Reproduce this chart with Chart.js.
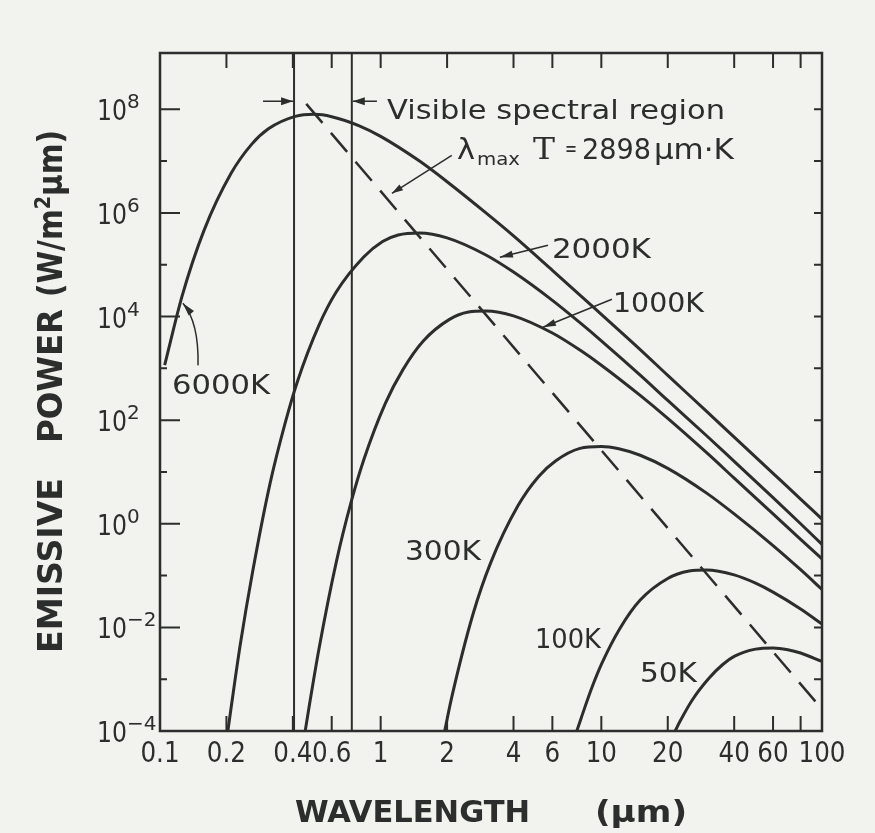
<!DOCTYPE html>
<html>
<head>
<meta charset="utf-8">
<script src="https://cdn.jsdelivr.net/npm/chart.js@4.4.0/dist/chart.umd.min.js"></script>
<style>
  html, body { margin: 0; padding: 0; background: #f2f2ee; }
  #wrap { width: 875px; height: 833px; }
</style>
</head>
<body>
<div id="wrap"><canvas id="chart"></canvas></div>
<script>
// blackbody curves (wavelength in um, power in W/m2um)
const lam6000 = [0.105, 0.126, 0.158, 0.21, 0.26, 0.31, 0.41, 0.5, 0.6, 0.8, 1, 1.5, 2, 3, 4, 6, 8, 10, 15, 20, 30, 40, 60, 80, 100];
const e6000 = [1.15e3, 2.5e4, 4.5e5, 5.8e6, 2.1e7, 4.2e7, 7.3e7, 8.0e7, 7.2e7, 4.8e7, 3.0e7, 1.0e7, 4.0e6, 1.0e6, 3.6e5, 7.8e4, 2.6e4, 1.1e4, 2.3e3, 730, 148, 47, 9.4, 3.0, 1.23];

const lam2000 = [0.203, 0.21, 0.231, 0.263, 0.315, 0.368, 0.42, 0.525, 0.63, 0.84, 1.02, 1.2, 1.5, 2, 3, 4, 6, 8, 10, 15, 20, 30, 40, 60, 80, 100];
const e2000 = [1e-4, 2.8e-4, 4.6e-3, 0.12, 5.9, 84, 565, 6.75e3, 3.0e4, 1.42e5, 2.8e5, 3.75e5, 4.1e5, 3.3e5, 1.54e5, 7.2e4, 2.05e4, 7.6e3, 3.4e3, 740, 240, 50, 16, 3.2, 1.0, 0.4];

const lam1000 = [0.455, 0.472, 0.525, 0.63, 0.735, 0.84, 1.05, 1.26, 1.56, 2.05, 2.5, 3, 4, 6, 8, 10, 15, 20, 30, 40, 60, 80, 100];
const e1000 = [1e-4, 2.64e-4, 3.8e-3, 0.186, 2.64, 17.6, 211, 934, 3.36e3, 8.8e3, 1.22e4, 1.28e4, 1.03e4, 4.8e3, 2.25e3, 1.15e3, 300, 108, 23.5, 7.6, 1.55, 0.5, 0.21];

const lam300 = [1.95, 2.1, 2.62, 3.15, 4.2, 5.2, 6.2, 8, 10, 12, 15, 20, 30, 40, 60, 80, 100];
const e300 = [1e-4, 4.5e-4, 0.0179, 0.176, 2.27, 8.2, 16.3, 28.5, 31, 28, 21, 11.7, 3.9, 1.55, 0.38, 0.13, 0.054];

const lam100 = [7.74, 8.1, 9.1, 10.1, 12.1, 15, 20, 25, 30, 40, 50, 60, 80, 100];
const e100 = [1e-4, 1.77e-4, 7.2e-4, 2.1e-3, 9.3e-3, 0.0336, 0.088, 0.122, 0.128, 0.103, 0.0714, 0.048, 0.0227, 0.0116];

const lam50 = [21.6, 22.7, 25.7, 30.8, 35.5, 40, 50, 60, 70, 80, 100];
const e50 = [1e-4, 1.52e-4, 3.84e-4, 1.05e-3, 1.92e-3, 2.75e-3, 3.8e-3, 4.0e-3, 3.7e-3, 3.2e-3, 2.2e-3];

// Wien line lambda_max * T = 2898 um K
const lamWien = [0.46, 95];
const eWien = [1.27e8, 3.4e-4];

// visible band edges
const visibleEdges = [0.405, 0.74];

// axes
const xMin = 0.1, xMax = 100;
const yMin = 1e-4, yMax = 1.22e9;
const xTickVals = [0.2, 0.4, 0.6, 1, 2, 4, 6, 10, 20, 40, 60, 80];
const xLabelVals = [0.1, 0.2, 0.4, 0.6, 1, 2, 4, 6, 10, 20, 40, 60, 100];
const yPowers = [-4, -3, -2, -1, 0, 1, 2, 3, 4, 5, 6, 7, 8];

const ink = '#2b2e2c';
const FONT = "'DejaVu Sans'";

const pts = (xs, ys) => xs.map((v, i) => ({ x: v, y: ys[i] }));
const curve = (xs, ys) => ({
  data: pts(xs, ys), showLine: true, borderColor: ink, borderWidth: 3,
  pointRadius: 0, cubicInterpolationMode: 'monotone', fill: false
});
const vline = v => ({
  data: [{ x: v, y: yMin }, { x: v, y: yMax }], showLine: true,
  borderColor: ink, borderWidth: 2, pointRadius: 0
});

// annotation anchors in data space (left edge, baseline)
const notes = [
  { text: '6000K', x: 0.1133, y: 315, w: 98 },
  { text: '2000K', x: 5.97, y: 1.33e5, w: 99 },
  { text: '1000K', x: 11.29, y: 1.2e4, w: 91 },
  { text: '300K', x: 1.289, y: 0.196, w: 76 },
  { text: '100K', x: 5.0, y: 3.94e-3, w: 66 },
  { text: '50K', x: 14.96, y: 8.67e-4, w: 57 }
];

function fitText(ctx, str, x, y, width, font) {
  ctx.font = font;
  const w = ctx.measureText(str).width;
  ctx.save();
  ctx.translate(x, y);
  ctx.scale(width / w, 1);
  ctx.textAlign = 'left';
  ctx.textBaseline = 'alphabetic';
  ctx.fillText(str, 0, 0);
  ctx.restore();
}

function head(ctx, x, y, ang, len, wid) {
  ctx.save();
  ctx.translate(x, y);
  ctx.rotate(ang);
  ctx.beginPath();
  ctx.moveTo(0, 0);
  ctx.lineTo(-len, wid / 2);
  ctx.lineTo(-len, -wid / 2);
  ctx.closePath();
  ctx.fill();
  ctx.restore();
}

function arrow(ctx, x1, y1, x2, y2, len, wid) {
  ctx.beginPath();
  ctx.moveTo(x1, y1);
  ctx.lineTo(x2, y2);
  ctx.stroke();
  head(ctx, x2, y2, Math.atan2(y2 - y1, x2 - x1), len, wid);
}

const overlay = {
  id: 'overlay',
  afterDatasetsDraw(chart) {
    const { ctx, chartArea: a, scales: { x, y } } = chart;
    const P = (l, e) => [x.getPixelForValue(l), y.getPixelForValue(e)];
    ctx.save();
    ctx.strokeStyle = ink;
    ctx.fillStyle = ink;
    ctx.lineCap = 'butt';

    // frame
    ctx.lineWidth = 2.5;
    ctx.strokeRect(a.left, a.top, a.right - a.left, a.bottom - a.top);

    // inward ticks
    ctx.lineWidth = 2;
    ctx.beginPath();
    yPowers.forEach(p => {
      const py = y.getPixelForValue(Math.pow(10, p));
      ctx.moveTo(a.left, py);
      ctx.lineTo(a.left + (p % 2 === 0 ? 20 : 7), py);
      ctx.moveTo(a.right, py);
      ctx.lineTo(a.right - 8, py);
    });
    xTickVals.forEach(v => {
      const px = x.getPixelForValue(v);
      ctx.moveTo(px, a.top);
      ctx.lineTo(px, a.top + 15);
      ctx.moveTo(px, a.bottom);
      ctx.lineTo(px, a.bottom - 15);
    });
    ctx.stroke();

    // x tick labels, slightly narrowed like the hand lettering
    xLabelVals.forEach(v => {
      const str = String(v);
      ctx.font = '28px ' + FONT;
      const w = ctx.measureText(str).width * 0.88;
      fitText(ctx, str, x.getPixelForValue(v) - w / 2, a.bottom + 31, w, '28px ' + FONT);
    });

    // y tick labels 10^n
    yPowers.filter(p => p % 2 === 0).forEach(p => {
      const py = y.getPixelForValue(Math.pow(10, p));
      fitText(ctx, '10', a.left - 63, py + 11, 30, '28px ' + FONT);
      const ex = p < 0 ? '\u2212' + (-p) : String(p);
      ctx.font = '20px ' + FONT;
      ctx.textAlign = 'left';
      ctx.fillText(ex, a.left - 33, py - 1);
    });

    // axis titles
    fitText(ctx, 'WAVELENGTH', 295, 822, 235, 'bold 30px ' + FONT);
    fitText(ctx, '(\u00b5m)', 595, 822, 92, 'bold 30px ' + FONT);

    ctx.save();
    ctx.translate(62, 653);
    ctx.rotate(-Math.PI / 2);
    fitText(ctx, 'EMISSIVE', 0, 0, 175, 'bold 34px ' + FONT);
    fitText(ctx, 'POWER', 210, 0, 134, 'bold 34px ' + FONT);
    ctx.font = 'bold 34px ' + FONT;
    const w1 = ctx.measureText('(W/m').width;
    const w3 = ctx.measureText('\u00b5m)').width;
    ctx.font = 'bold 22px ' + FONT;
    const w2 = ctx.measureText('2').width;
    const s = 167 / (w1 + w2 + w3);
    fitText(ctx, '(W/m', 356, 0, w1 * s, 'bold 34px ' + FONT);
    fitText(ctx, '2', 356 + w1 * s, -12, w2 * s, 'bold 22px ' + FONT);
    fitText(ctx, '\u00b5m)', 356 + (w1 + w2) * s, 0, w3 * s, 'bold 34px ' + FONT);
    ctx.restore();

    // curve labels
    notes.forEach(n => {
      const [px, py] = P(n.x, n.y);
      fitText(ctx, n.text, px, py, n.w, '27px ' + FONT);
    });

    // visible region
    const [vx, vy] = P(1.068, 6.41e7);
    fitText(ctx, 'Visible spectral region', vx, vy, 338, '26px ' + FONT);
    ctx.lineWidth = 1.5;
    const [l0x, ay] = P(0.293, 1.43e8);
    const [l1x] = P(visibleEdges[0], 1.43e8);
    arrow(ctx, l0x, ay, l1x - 1, ay, 12, 8);
    const [r0x] = P(0.962, 1.43e8);
    const [r1x] = P(visibleEdges[1], 1.43e8);
    arrow(ctx, r0x, ay, r1x + 1, ay, 12, 8);

    // lambda_max T label
    const [kx, ky] = P(2.216, 1.08e7);
    fitText(ctx, '\u03bb', kx, ky, 18, '28px ' + FONT);
    fitText(ctx, 'max', kx + 20, ky + 6, 43, '18px ' + FONT);
    fitText(ctx, 'T', kx + 76, ky, 22, "29px 'DejaVu Serif'");
    fitText(ctx, '=', kx + 108, ky - 3, 12, '22px ' + FONT);
    fitText(ctx, '2898', kx + 125, ky, 69, '29px ' + FONT);
    fitText(ctx, '\u00b5m\u00b7K', kx + 197, ky, 80, '28px ' + FONT);

    // leaders
    ctx.lineWidth = 1.5;
    let [ax1, ay1] = P(2.10, 1.29e7), [ax2, ay2] = P(1.125, 2.39e6);
    arrow(ctx, ax1, ay1, ax2, ay2, 11, 7);
    [ax1, ay1] = P(5.73, 2.37e5); [ax2, ay2] = P(3.47, 1.39e5);
    arrow(ctx, ax1, ay1, ax2, ay2, 13, 7);
    [ax1, ay1] = P(11.17, 2.15e4); [ax2, ay2] = P(5.44, 6.19e3);
    arrow(ctx, ax1, ay1, ax2, ay2, 13, 7);

    const [c0x, c0y] = P(0.1487, 1.14e3);
    const [c1x, c1y] = P(0.1502, 7.73e3);
    const [c2x, c2y] = P(0.127, 1.8e4);
    ctx.beginPath();
    ctx.moveTo(c0x, c0y);
    ctx.quadraticCurveTo(c1x, c1y, c2x, c2y);
    ctx.stroke();
    head(ctx, c2x, c2y, Math.atan2(c2y - c1y, c2x - c1x), 13, 7);

    ctx.restore();
  }
};

new Chart(document.getElementById('chart'), {
  type: 'scatter',
  data: {
    datasets: [
      curve(lam6000, e6000),
      curve(lam2000, e2000),
      curve(lam1000, e1000),
      curve(lam300, e300),
      curve(lam100, e100),
      curve(lam50, e50),
      {
        data: pts(lamWien, eWien), showLine: true, borderColor: ink,
        borderWidth: 2.5, borderDash: [25, 13], pointRadius: 0
      },
      vline(visibleEdges[0]),
      vline(visibleEdges[1])
    ]
  },
  options: {
    responsive: true,
    maintainAspectRatio: false,
    animation: false,
    layout: { padding: { left: 160, right: 53, top: 53, bottom: 102 } },
    plugins: { legend: { display: false }, tooltip: { enabled: false } },
    scales: {
      x: { type: 'logarithmic', min: xMin, max: xMax, display: false },
      y: { type: 'logarithmic', min: yMin, max: yMax, display: false }
    }
  },
  plugins: [overlay]
});
</script>
</body>
</html>
